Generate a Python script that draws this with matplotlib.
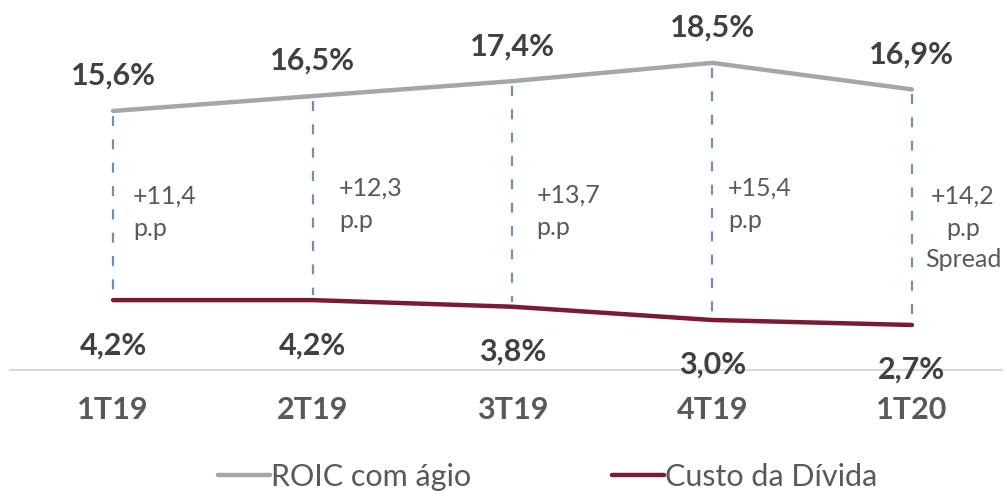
import matplotlib.pyplot as plt

plt.rcParams['font.family'] = ['Lato', 'DejaVu Sans']

quarters = ['1T19', '2T19', '3T19', '4T19', '1T20']
roic = [15.6, 16.5, 17.4, 18.5, 16.9]
custo = [4.2, 4.2, 3.8, 3.0, 2.7]
spread_labels = ['+11,4\np.p', '+12,3\np.p', '+13,7\np.p', '+15,4\np.p',
                 '+14,2\np.p\nSpread']

# where the spread notes sit: x offset from the category (px), top row (px)
spread_dx = [20, 26, 24, 16, 51]
spread_top = [185, 177, 184, 177, 185]

gray = '#a6a6a6'
wine = '#7a1b31'
txt = '#404040'

W, H = 1007, 499
fig = plt.figure(figsize=(W / 100, H / 100), dpi=100)
ax = fig.add_axes([0, 0, 1, 1])
ax.set_xlim(-0.566, 4.476)
ax.set_ylim(-7.79, 22.29)
ax.axis('off')


def px_to_y(py):
    # pixel row (from top) -> data value on the chart scale
    return (369.8 - py) / 16.59


x = list(range(len(quarters)))

# baseline
ax.axhline(0, xmin=0.01, xmax=0.995, color='#d9d9d9', lw=1.5, zorder=1)

# spread dashes between the two lines
for i in x:
    ax.plot([i, i], [roic[i] - 0.3, custo[i] + 0.3], color='#6f8fb8',
            lw=1.6, dashes=(4.5, 6), zorder=2)

ax.plot(x, roic, color=gray, lw=3.2, solid_capstyle='round', zorder=3,
        label='ROIC com ágio')
ax.plot(x, custo, color=wine, lw=3.2, solid_capstyle='round', zorder=3,
        label='Custo da Dívida')

for i in x:
    ax.annotate(f'{roic[i]:.1f}%'.replace('.', ','), (i, roic[i]),
                xytext=(0, 35), textcoords='offset pixels', ha='center',
                va='center', fontsize=22, fontweight='bold', color=txt)
    ax.annotate(f'{custo[i]:.1f}%'.replace('.', ','), (i, custo[i]),
                xytext=(0, -45), textcoords='offset pixels', ha='center',
                va='center', fontsize=22, fontweight='bold', color=txt)

    last = i == len(x) - 1
    ax.annotate(spread_labels[i], (i, px_to_y(spread_top[i])),
                xytext=(spread_dx[i], 0), textcoords='offset pixels',
                ha='center' if last else 'left', va='top',
                multialignment='center' if last else 'left',
                fontsize=18, color='#595959', linespacing=1.45)

    ax.text(i, px_to_y(410), quarters[i], ha='center', va='center',
            fontsize=22, fontweight='bold', color='#595959')

fig.legend(loc='center', bbox_to_anchor=(0.5 + 44 / W, 1 - 477 / H), ncol=2,
           frameon=False, fontsize=22, handlelength=1.7, handletextpad=0.05,
           columnspacing=4.6, labelcolor='#595959')

fig.savefig('out.png', dpi=100)
